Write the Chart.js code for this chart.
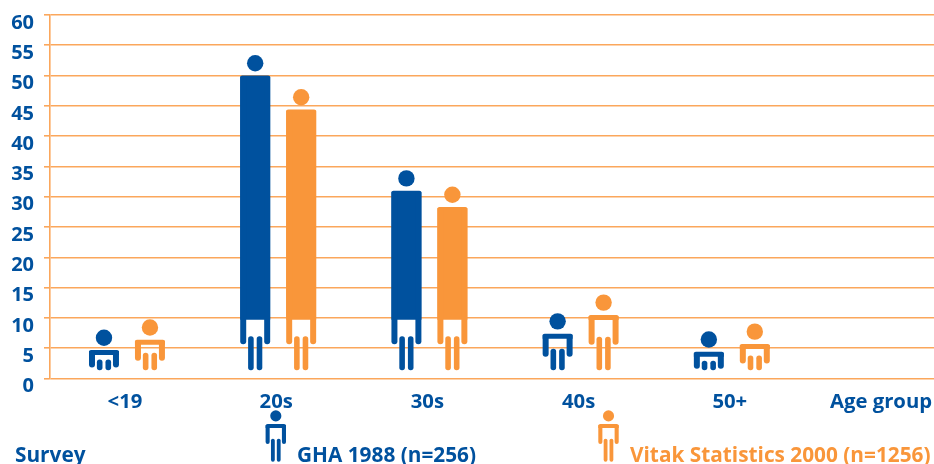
<!DOCTYPE html>
<html>
<head>
<meta charset="utf-8">
<style>
  html, body { margin: 0; padding: 0; background: #fff; overflow: hidden; }
  #wrap { width: 934px; height: 464px; }
</style>
<script src="https://cdn.jsdelivr.net/npm/chart.js@4"></script>
</head>
<body>
<div id="wrap"><canvas id="surveyChart" width="934" height="464"></canvas></div>
<script>
const categories = ["<19", "20s", "30s", "40s", "50+"];
const axisCaption = "Age group";
const legendTitle = "Survey";
const ghaName = "GHA 1988 (n=256)";
const vitakName = "Vitak Statistics 2000 (n=1256)";
const ghaValues = [4.7, 50, 31, 7.4, 4.4];
const vitakValues = [6.4, 44.4, 28.3, 10.5, 5.7];
const yTicks = [0, 5, 10, 15, 20, 25, 30, 35, 40, 45, 50, 55, 60];

const BLUE = "#00519e";
const ORANGE = "#f9963a";
const GRID = "#fba75c";
const FONT = "'Open Sans', sans-serif";

// one stick figure, k scales the limbs (legend icons are smaller)
function drawPerson(ctx, x, top, width, cut, armEnd, legTop, legEnd, color, k) {
  const left = x - width / 2;
  const armW = 6 * k, legW = 5.6 * k, gap = 3 * k;
  ctx.fillStyle = color;
  ctx.beginPath();
  ctx.arc(x, top - 12.3 * (k < 1 ? 0.66 : 1), 8.2 * k, 0, Math.PI * 2);
  ctx.fill();
  ctx.beginPath();
  ctx.roundRect(left, top, width, cut - top, [2, 2, 0, 0]);
  ctx.fill();
  ctx.beginPath();
  ctx.roundRect(left, top + 1, armW, armEnd - top - 1, [0, 0, 3 * k, 3 * k]);
  ctx.fill();
  ctx.beginPath();
  ctx.roundRect(left + width - armW, top + 1, armW, armEnd - top - 1, [0, 0, 3 * k, 3 * k]);
  ctx.fill();
  ctx.beginPath();
  ctx.roundRect(x - gap / 2 - legW, legTop, legW, legEnd - legTop, 2.7 * k);
  ctx.fill();
  ctx.beginPath();
  ctx.roundRect(x + gap / 2, legTop, legW, legEnd - legTop, 2.7 * k);
  ctx.fill();
}

const personBars = {
  id: "personBars",
  beforeDatasetDraw(chart, args) {
    const { ctx } = chart;
    const color = chart.data.datasets[args.index].backgroundColor;
    args.meta.data.forEach(function (bar) {
      // limbs follow the shoulder height until the figure is tall enough
      const base = bar.base;
      const tall = bar.y < base - 63.5;
      const armEnd = tall ? base - 33.5 : base - 33.5 + (bar.y - (base - 63.5)) * 0.65;
      const cut = tall ? base - 58 : bar.y + 5;
      drawPerson(ctx, bar.x, bar.y, bar.width, cut, armEnd, armEnd - 8, base - 7.5, color, 1);
    });
    return false;
  },
  afterDraw(chart) {
    const { ctx } = chart;
    ctx.save();
    ctx.textBaseline = "alphabetic";
    ctx.textAlign = "left";
    ctx.font = "700 20.8px " + FONT;
    ctx.fillStyle = BLUE;
    ctx.fillText(legendTitle, 15, 461.5);
    ctx.fillText(ghaName, 297, 461.5);
    ctx.fillStyle = ORANGE;
    ctx.fillText(vitakName, 630, 461.5);
    drawPerson(ctx, 275.8, 424, 20.4, 428, 444, 438.7, 461.7, BLUE, 0.68);
    drawPerson(ctx, 608.5, 424, 20.4, 428, 444, 438.7, 461.7, ORANGE, 0.68);
    ctx.restore();
  }
};

new Chart("surveyChart", {
  type: "bar",
  data: {
    datasets: [
      {
        label: ghaName,
        data: ghaValues.map(function (v, i) { return { x: i, y: v }; }),
        backgroundColor: BLUE
      },
      {
        label: vitakName,
        data: vitakValues.map(function (v, i) { return { x: i, y: v }; }),
        backgroundColor: ORANGE
      }
    ]
  },
  options: {
    responsive: false,
    animation: false,
    categoryPercentage: 0.608,
    barPercentage: 0.652,
    layout: { padding: { top: 15, left: 0, right: 0, bottom: 0 } },
    plugins: { legend: { display: false }, tooltip: { enabled: false } },
    scales: {
      x: {
        type: "linear",
        offset: false,
        min: -0.509,
        max: 5.337,
        grid: { display: false },
        border: { display: false },
        afterBuildTicks(scale) {
          scale.ticks = categories.concat(axisCaption).map(function (c, i) { return { value: i }; });
        },
        afterFit(scale) {
          scale.height = 85.5;
          scale.paddingLeft = 0;
          scale.paddingRight = 0;
        },
        ticks: {
          autoSkip: false,
          maxRotation: 0,
          padding: 4,
          labelOffset: -2,
          color: BLUE,
          font: { family: FONT, size: 20.3, weight: "700" },
          callback(value) { return categories.concat(axisCaption)[value]; }
        }
      },
      y: {
        min: 0,
        max: 60,
        grid: { color: GRID, lineWidth: 1.6, tickLength: 6 },
        border: { color: GRID, width: 1.6 },
        afterBuildTicks(scale) {
          scale.ticks = yTicks.map(function (v) { return { value: v }; });
        },
        afterFit(scale) {
          scale.width = 50;
          scale.paddingTop = 0;
          scale.paddingBottom = 0;
        },
        ticks: {
          padding: 10,
          labelOffset: 8,
          color: BLUE,
          font: { family: FONT, size: 20, weight: "700" }
        }
      }
    }
  },
  plugins: [personBars]
});
</script>
</body>
</html>
